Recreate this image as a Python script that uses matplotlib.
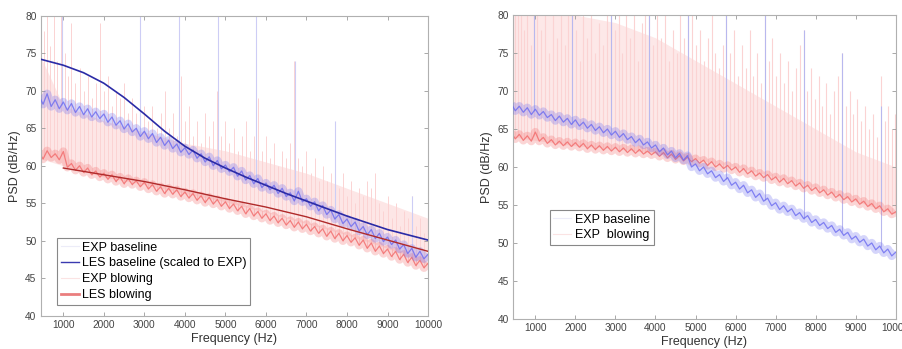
import numpy as np
import matplotlib
matplotlib.use("Agg")
import matplotlib.pyplot as plt  # noqa: E402
from matplotlib.lines import Line2D  # noqa: E402

plt.rcParams["font.family"] = ["Liberation Sans", "DejaVu Sans"]

# spectrum grid for the noisy measured curves (Hz)
FREQ = np.arange(400, 10001, 100)

# left panel: blue noisy band (baseline) and red noisy band (blowing), dB/Hz
left_blue = [69.3, 68.2, 69.6, 67.9, 68.8, 67.6, 68.5,
             67.4, 68.3, 67.1, 67.9, 66.8, 67.6, 66.5, 67.2, 66.3, 66.9,
             65.8, 66.5, 65.4, 66.0, 64.9, 65.6, 64.5, 65.0, 63.9, 64.6,
             63.6, 64.3, 63.1, 63.8, 62.7, 63.4, 62.3, 62.9, 61.8, 62.4,
             61.5, 62.1, 61.0, 61.6, 60.5, 61.2, 60.0, 60.7, 59.6, 60.1,
             59.2, 59.8, 58.6, 59.3, 58.1, 58.7, 57.6, 58.3, 57.1, 57.7,
             56.8, 57.4, 56.3, 57.0, 55.9, 56.4, 55.3, 56.6, 55.2, 55.6,
             54.6, 55.2, 54.0, 54.7, 53.5, 54.1, 52.9, 53.5, 52.3, 52.9,
             51.9, 52.5, 51.3, 51.9, 50.8, 51.5, 50.3, 51.0, 49.9, 50.5,
             49.5, 50.1, 48.9, 49.5, 48.3, 49.0, 47.8, 48.6, 47.6, 48.2]
left_red = [61.8, 60.9, 62.0, 61.1, 61.6, 60.8, 61.9,
            59.8, 60.3, 59.4, 60.0, 59.1, 59.7, 58.8, 59.3, 58.5, 59.0,
            58.2, 58.8, 57.9, 58.5, 57.6, 58.3, 57.5, 58.0, 57.2, 57.8,
            56.9, 57.5, 56.6, 57.2, 56.3, 57.0, 56.2, 56.8, 55.9, 56.5,
            55.7, 56.3, 55.4, 56.0, 55.1, 55.8, 54.9, 55.5, 54.6, 55.2,
            54.3, 54.9, 54.0, 54.6, 53.6, 54.3, 53.3, 53.9, 53.0, 53.6,
            52.7, 53.3, 52.4, 53.0, 52.1, 52.7, 51.8, 52.5, 51.6, 52.2,
            51.3, 51.9, 51.0, 51.6, 50.6, 51.3, 50.3, 51.0, 50.0, 50.7,
            49.8, 50.4, 49.4, 50.1, 49.0, 49.7, 48.6, 49.3, 48.3, 48.9,
            47.9, 48.6, 47.5, 48.2, 47.1, 47.8, 46.7, 47.4, 46.4, 47.0]

# right panel: EXP baseline (blue) and EXP blowing (red)
right_blue = [68.3, 67.4, 68.0, 67.2, 67.8, 66.9, 67.6,
              66.8, 67.3, 66.5, 66.9, 66.1, 66.7, 65.9, 66.4, 65.6, 66.2,
              65.4, 65.9, 65.1, 65.6, 64.8, 65.3, 64.5, 65.0, 64.2, 64.7,
              63.9, 64.4, 63.6, 64.0, 63.2, 63.7, 62.9, 63.3, 62.5, 62.9,
              62.0, 62.5, 61.6, 62.1, 61.2, 61.8, 60.9, 61.5, 60.0, 60.4,
              59.5, 60.0, 59.1, 59.5, 58.6, 59.0, 58.1, 58.6, 57.6, 58.0,
              57.1, 57.6, 56.6, 57.0, 56.0, 56.5, 55.5, 55.9, 54.9, 55.3,
              54.4, 54.9, 54.1, 54.5, 53.6, 54.0, 53.2, 53.6, 52.7, 53.1,
              52.3, 52.7, 51.9, 52.3, 51.4, 51.8, 51.0, 51.4, 50.5, 50.9,
              50.1, 50.5, 49.6, 50.0, 49.1, 49.6, 48.7, 49.2, 48.3, 48.8]
right_red = [64.5, 63.7, 64.3, 63.5, 64.1, 63.4, 64.6,
             63.4, 63.9, 63.1, 63.6, 62.9, 63.4, 62.8, 63.3, 62.7, 63.2,
             62.6, 63.1, 62.4, 62.9, 62.3, 62.8, 62.2, 62.7, 62.1, 62.6,
             62.0, 62.5, 61.9, 62.4, 61.8, 62.3, 61.7, 62.1, 61.6, 62.0,
             61.4, 61.9, 61.2, 61.7, 61.0, 61.5, 60.8, 61.3, 60.7, 61.1,
             60.5, 60.9, 60.2, 60.7, 60.0, 60.4, 59.8, 60.2, 59.6, 60.0,
             59.3, 59.8, 59.1, 59.5, 58.8, 59.2, 58.6, 59.0, 58.3, 58.7,
             58.0, 58.5, 57.8, 58.2, 57.5, 57.9, 57.2, 57.6, 56.9, 57.3,
             56.6, 57.0, 56.3, 56.7, 56.0, 56.4, 55.7, 56.1, 55.4, 55.8,
             55.1, 55.5, 54.8, 55.2, 54.5, 54.9, 54.1, 54.5, 53.8, 54.1]

# smooth LES curves (left panel)
les_base_f = [440, 1000, 1500, 2000, 2500, 3000, 3500, 4000, 4500, 5000,
              5500, 6000, 6500, 7000, 7500, 8000, 8500, 9000, 9500, 10000]
les_base_db = [74.2, 73.4, 72.4, 71.0, 69.1, 66.9, 64.6, 62.6, 61.0, 59.7,
               58.5, 57.4, 56.3, 55.3, 54.3, 53.3, 52.4, 51.5, 50.8, 50.1]
les_blow_f = [1000, 2000, 3000, 4000, 5000, 6000, 7000, 8000, 9000, 10000]
les_blow_db = [59.7, 58.8, 57.9, 56.8, 55.6, 54.5, 53.2, 51.6, 50.1, 48.6]

# light pink envelope of the spiky EXP blowing trace
env_f = [400, 1000, 2000, 3000, 4000, 5000, 6000, 7000, 8000, 9000, 10000]
left_env_lo = [61.0, 60.0, 58.5, 57.5, 56.3, 55.2, 53.8, 52.3, 50.8, 49.0, 46.8]
left_env_hi = [75.0, 68.0, 66.0, 64.5, 63.0, 62.0, 60.5, 59.0, 57.0, 55.0, 53.0]
right_env_lo = [64.0, 63.5, 62.8, 62.4, 61.8, 61.0, 60.0, 58.7, 57.3, 55.5, 53.8]
right_env_hi = [80.0, 80.0, 80.0, 79.0, 77.0, 74.0, 71.0, 68.0, 65.0, 62.0, 60.0]

# tonal spikes: (frequency, peak dB)
left_pink_f = [450, 520, 600, 680, 760, 850, 940, 1030, 1120, 1200, 1300, 1400, 1500,
               1600, 1700, 1800, 1900, 2000, 2100, 2200, 2300, 2400, 2500, 2600, 2700,
               2800, 2880, 2980, 3080, 3200, 3300, 3400, 3500, 3600, 3700, 3800, 3900,
               4000, 4100, 4200, 4300, 4400, 4500, 4600, 4700, 4800, 4900, 5000, 5100,
               5200, 5300, 5400, 5500, 5600, 5700, 5800, 5900, 6000, 6100, 6200, 6300,
               6400, 6500, 6600, 6700, 6800, 6900, 7000, 7100, 7200, 7300, 7400, 7500,
               7600, 7700, 7800, 7900, 8000, 8100, 8200, 8300, 8400, 8500, 8600, 8700,
               8800, 8900, 9000, 9100, 9200, 9300, 9400, 9500, 9600, 9700, 9800, 9900, 10000]
left_pink_db = [80, 78, 80, 76, 80, 74, 80, 75, 72, 79, 71, 73, 70,
                72, 69, 71, 79, 70, 72, 68, 70, 69, 71, 67, 69,
                67, 71, 68, 66, 68, 65, 67, 70, 65, 67, 64, 72,
                66, 68, 64, 66, 63, 67, 64, 66, 70, 64, 66, 63,
                65, 62, 64, 66, 62, 64, 69, 62, 64, 61, 63, 60,
                62, 61, 63, 74, 61, 60, 62, 59, 61, 58, 60, 58,
                59, 64, 57, 59, 56, 58, 55, 57, 56, 58, 57, 59,
                55, 54, 56, 53, 55, 52, 54, 53, 56, 52, 53, 51, 52]
left_lav_f = [960, 2890, 3860, 4810, 5760, 6720, 7700, 9600]
left_lav_db = [80, 80, 80, 80, 80, 74, 66, 56]

right_pink_f = [480, 560, 650, 720, 800, 880, 960, 1050, 1150, 1250, 1330, 1440, 1530,
                1630, 1730, 1820, 1920, 2010, 2110, 2200, 2300, 2400, 2500, 2600, 2690,
                2780, 2880, 2980, 3080, 3170, 3270, 3370, 3460, 3560, 3660, 3750, 3850,
                3950, 4050, 4150, 4240, 4340, 4440, 4530, 4620, 4720, 4800, 4900, 5000,
                5100, 5200, 5300, 5400, 5480, 5580, 5680, 5770, 5870, 5960, 6060, 6160,
                6250, 6350, 6440, 6540, 6640, 6730, 6830, 6920, 7020, 7120, 7210, 7310,
                7400, 7500, 7600, 7700, 7790, 7890, 7980, 8080, 8170, 8270, 8370, 8460,
                8560, 8650, 8750, 8850, 8940, 9040, 9140, 9230, 9330, 9430, 9520, 9620,
                9720, 9810, 9910, 9990]
right_pink_db = [80, 80, 80, 78, 80, 76, 80, 80, 78, 80, 75, 80, 77,
                 80, 76, 80, 80, 78, 74, 80, 77, 80, 75, 79, 76,
                 80, 80, 78, 80, 75, 80, 77, 80, 74, 79, 80, 80,
                 76, 80, 77, 80, 74, 78, 75, 80, 77, 80, 80, 76,
                 78, 74, 77, 80, 75, 73, 76, 80, 75, 78, 72, 76,
                 73, 78, 72, 75, 71, 80, 74, 77, 72, 75, 71, 74,
                 70, 73, 76, 78, 70, 73, 69, 72, 68, 71, 67, 70,
                 72, 75, 68, 70, 67, 69, 66, 68, 65, 67, 64, 72,
                 66, 68, 65, 67]
right_lav_f = [960, 1920, 2880, 3850, 4800, 5770, 6730, 7700, 8650, 9620]
right_lav_db = [80, 80, 80, 80, 80, 80, 80, 78, 75, 68]

X_TICKS = list(range(1000, 10001, 1000))
Y_TICKS = list(range(40, 81, 5))

PINK = "#fbd3d3"
LAV = "#cdcdf5"
BLUE_BAND = "#6a6af0"
RED_BAND = "#f26a6a"
GREY = "#9a9a9a"


def style_axes(ax):
    ax.set_xlim(440, 10000)
    ax.set_ylim(40, 80)
    ax.set_xticks(X_TICKS)
    ax.set_yticks(Y_TICKS)
    ax.tick_params(direction="in", length=3, width=0.6, color=GREY, labelsize=7.3,
                   labelcolor="#444444", top=True, right=True, pad=3)
    for s in ax.spines.values():
        s.set_color("#b0b0b0")
        s.set_linewidth(0.8)
    ax.set_xlabel("Frequency (Hz)", fontsize=9, color="#333333", labelpad=2)
    ax.set_ylabel("PSD (dB/Hz)", fontsize=9, color="#333333", labelpad=3)


def spikes(ax, f, top, base_series, color, lw):
    base = np.interp(f, FREQ, base_series)
    ax.vlines(f, base, top, color=color, lw=lw, zorder=1)


def band(ax, series, color, z):
    # wide soft stroke gives the fuzzy band, thin stroke on top the fine noise
    ax.plot(FREQ, series, color=color, lw=6, alpha=0.28, solid_joinstyle="round",
            solid_capstyle="butt", zorder=z)
    ax.plot(FREQ, series, color=color, lw=0.9, alpha=0.8, zorder=z)


fig = plt.figure(figsize=(9.03, 3.49), dpi=100)
ax1 = fig.add_axes([0.045, 0.095, 0.429, 0.860])
ax2 = fig.add_axes([0.568, 0.086, 0.424, 0.871])

# left panel
ax1.fill_between(env_f, left_env_lo, left_env_hi, color="#fde6e6", lw=0, zorder=0)
spikes(ax1, left_pink_f, left_pink_db, left_red, PINK, 0.7)
spikes(ax1, left_lav_f, left_lav_db, left_blue, LAV, 0.8)
band(ax1, left_red, RED_BAND, 2)
band(ax1, left_blue, BLUE_BAND, 3)
ax1.plot(les_base_f, les_base_db, color="#2b2ba6", lw=1.2, zorder=4)
ax1.plot(les_blow_f, les_blow_db, color="#b02a2a", lw=1.0, zorder=4)
style_axes(ax1)
h1 = [Line2D([0], [0], color="#ececf8", lw=0.8),
      Line2D([0], [0], color="#3a3ab0", lw=1.0),
      Line2D([0], [0], color="#fbe3e3", lw=0.8),
      Line2D([0], [0], color="#ea7e7e", lw=2.0)]
leg1 = ax1.legend(h1, ["EXP baseline", "LES baseline (scaled to EXP)", "EXP blowing", "LES blowing"],
                  loc="lower left", bbox_to_anchor=(0.042, 0.037), borderaxespad=0,
                  fontsize=9, handlelength=1.5, handletextpad=0.2, labelspacing=0.3,
                  borderpad=0.3, fancybox=False, framealpha=1, edgecolor="#888888")
leg1.get_frame().set_linewidth(0.8)

# right panel
ax2.fill_between(env_f, right_env_lo, right_env_hi, color="#fde8e8", lw=0, zorder=0)
spikes(ax2, right_pink_f, right_pink_db, right_red, PINK, 0.8)
spikes(ax2, right_lav_f, right_lav_db, right_blue, "#b8b8ee", 0.8)
band(ax2, right_red, RED_BAND, 2)
band(ax2, right_blue, BLUE_BAND, 3)
style_axes(ax2)
h2 = [Line2D([0], [0], color="#ececf8", lw=0.8),
      Line2D([0], [0], color="#fbe3e3", lw=0.8)]
leg2 = ax2.legend(h2, ["EXP baseline", "EXP  blowing"],
                  loc="lower left", bbox_to_anchor=(0.096, 0.243), borderaxespad=0,
                  fontsize=9, handlelength=1.4, handletextpad=0.3, labelspacing=0.3,
                  borderpad=0.3, fancybox=False, framealpha=1, edgecolor="#888888")
leg2.get_frame().set_linewidth(0.8)

fig.savefig("out.png", dpi=100)
